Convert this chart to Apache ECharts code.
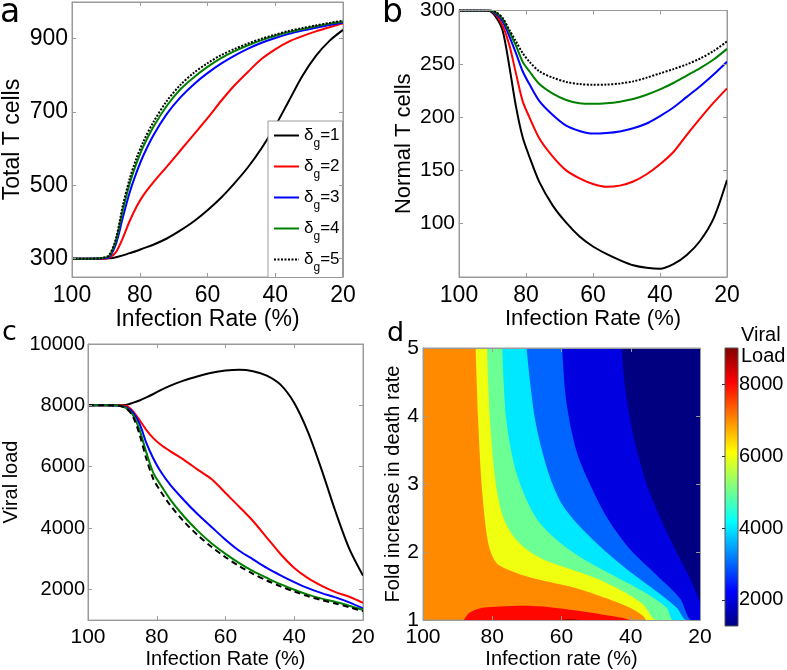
<!DOCTYPE html>
<html><head><meta charset="utf-8">
<script src="https://cdn.jsdelivr.net/npm/echarts@6/dist/echarts.min.js"></script>
<style>html,body{margin:0;padding:0;background:#fff}#c{width:787px;height:670px}</style>
</head><body><div id="c"></div>
<script>
// ---------- data ----------
const rates = [100, 95, 91, 89, 87, 85, 83, 81, 79, 76, 72, 68, 64, 60, 56, 52, 48, 44, 40, 36, 32, 28, 24, 20];
const deltaNames = ['δg=1', 'δg=2', 'δg=3', 'δg=4', 'δg=5'];

// panel a: total T cells
const totalT1 = [300,300,300,301,304,309,315,321,328,338,355,377,402,432,466,506,550,602,662,730,798,853,894,924];
const totalT2 = [300,300,300,303,318,356,402,441,472,508,551,595,639,683,730,773,810,845,871,892,907,920,931,942];
const totalT3 = [300,300,301,305,341,412,480,534,580,636,695,740,776,806,832,854,873,889,902,913,922,930,937,944];
const totalT4 = [300,300,302,308,351,432,504,559,605,659,717,762,795,823,847,866,882,896,908,918,926,934,941,947];
const totalT5 = [300,300,302,310,356,445,517,573,618,672,730,774,807,833,855,872,887,900,911,921,929,936,943,949];

// panel b: normal T cells
const normalT1 = [300,300,299.5,294,281.5,248,210,181,163,139,117,101,88,78.6,71.6,65.8,61,58.6,57.7,62,70.6,84,105,141];
const normalT2 = [300,300,300,296,286,268,241,215,200,180,163,150,142.5,137.2,134.6,135.7,139.6,146.4,155.8,167.3,183.4,198.8,213.5,227];
const normalT3 = [300,300,300,297,290,276,260,243,231,215,202,192,187,184.5,185,186.5,189.5,194,201,209,219,229,240,252];
const normalT4 = [300,300,300,298,292,280,267,252,243,231,222,216,213,212.5,213,214.5,217,221,226,232,239,246,254,264];
const normalT5 = [300,300,300,298.5,293,282,271,260,252,243,237,233,231,230.3,230.5,231.5,233.5,237,241,245,249.5,255,262,271];

// panel c: viral load
const viral1 = [8000,8000,8000,8010,8080,8160,8260,8370,8490,8645,8815,8950,9065,9135,9163,9115,8972,8676,8080,7130,5890,4540,3330,2450];
const viral2 = [8000,8000,8000,7985,7820,7520,7195,6932,6732,6498,6217,5898,5594,5144,4695,4230,3692,3154,2700,2368,2118,1914,1761,1560];
const viral3 = [8000,8000,7990,7940,7780,7400,6768,6267,5869,5400,4900,4440,4030,3620,3260,2980,2700,2460,2240,2040,1880,1740,1580,1380];
const viral4 = [8000,8000,7990,7920,7700,7200,6450,5800,5430,4920,4370,3900,3500,3160,2860,2600,2380,2170,1990,1830,1700,1590,1470,1330];
const viral5 = [8000,8000,7990,7910,7650,7050,6250,5600,5220,4730,4200,3760,3380,3050,2760,2510,2290,2100,1930,1780,1650,1540,1420,1290];

// panel d: contour boundaries [infection rate %, fold increase]
const contourLevels = [7000, 6000, 5000, 4000, 3000, 2000];
const bound7000 = [[84.8,5],[84.1,3.97],[83.1,3.01],[81.7,2.29],[80.7,2.04],[78.8,1.84],[74.9,1.73],[69.2,1.63],[63.4,1.56],[55.7,1.47],[47.0,1.32],[40.2,1.18],[36.4,1.06],[35.4,1],[20,1]];
const bound6000 = [[81.5,5],[80.7,3.97],[79.0,3.01],[76.9,2.52],[74.0,2.24],[70.1,2.04],[65.3,1.89],[57.6,1.75],[49.9,1.61],[42.2,1.42],[36.4,1.23],[32.5,1],[20,1]];
const bound5000 = [[77.1,5],[76.0,3.97],[73.5,3.25],[70.1,2.77],[66.3,2.43],[60.5,2.14],[53.7,1.90],[45.1,1.66],[36.4,1.42],[29.6,1.18],[27.7,1],[20,1]];
const bound4000 = [[70.1,5],[67.7,3.97],[64.3,3.25],[60.5,2.76],[55.7,2.43],[48.0,2.04],[40.2,1.71],[32.5,1.42],[26.7,1.18],[23.9,1],[20,1]];
const bound3000 = [[59.8,5],[58.6,4.21],[55.7,3.49],[51.8,3.00],[47.0,2.52],[40.2,2.04],[32.5,1.66],[25.8,1.32],[22.4,1],[20,1]];
const bound2000 = [[42.6,5],[41.7,4.45],[39.3,3.73],[35.4,3.00],[31.6,2.52],[27.2,2.04],[22.4,1.56],[20,1.26]];
const bound8000 = [[88.2,1],[86.5,1.11],[82.7,1.18],[77.8,1.20],[71.1,1.21],[63.4,1.19],[55.7,1.14],[48.0,1.08],[42.2,1.03],[40.2,1]];
const bound9000 = [[61,1],[57.5,1.012],[54,1]];
const colorRange = [1270, 9020];
const colorbarTicks = [2000, 4000, 6000, 8000];

// tick labels
const totalTTicks = [300, 500, 700, 900];
const viralTicks = [2000, 4000, 6000, 8000, 10000];

// ---------- styling ----------
const FONT = '"Liberation Sans", Arial, sans-serif';
const LETTER = '"DejaVu Sans", sans-serif';
const FRAME = '#9a9a9a';
const lineColors = ['#000000', '#ff0000', '#0000ff', '#008000', '#000000'];
const plain = v => String(v);

function jet(v) {
  let t = (v - colorRange[0]) / (colorRange[1] - colorRange[0]);
  t = Math.max(0, Math.min(1, t));
  const c = x => Math.round(255 * Math.max(0, Math.min(1, x)));
  return 'rgb(' + c(1.5 - Math.abs(4 * t - 3)) + ',' + c(1.5 - Math.abs(4 * t - 2)) + ',' + c(1.5 - Math.abs(4 * t - 1)) + ')';
}

function makeX(gi, c) {
  const base = {gridIndex: gi, type: 'value', min: c.min, max: c.max, interval: c.interval, inverse: true, z: 10,
    splitLine: {show: false}, axisLine: {show: true, onZero: false, lineStyle: {color: FRAME, width: 1}},
    axisTick: {show: true, inside: true, length: 4, lineStyle: {color: FRAME}}};
  return [
    Object.assign({}, base, {position: 'bottom',
      axisLabel: {color: '#000', fontFamily: FONT, fontSize: c.fs, margin: c.margin, formatter: plain},
      name: c.name, nameLocation: 'middle', nameGap: c.nameGap,
      nameTextStyle: {color: '#000', fontFamily: FONT, fontSize: c.nfs}}),
    Object.assign({}, base, {position: 'top', axisLabel: {show: false}})
  ];
}
function makeY(gi, c) {
  const tick = {show: true, inside: true, length: 4, lineStyle: {color: FRAME}};
  const lab = {color: '#000', fontFamily: FONT, fontSize: c.fs, margin: c.margin, showMinLabel: c.showMin !== false, formatter: plain};
  if (c.ticks) { tick.customValues = c.ticks; lab.customValues = c.ticks; }
  const base = {gridIndex: gi, type: 'value', min: c.min, max: c.max, z: 10,
    splitLine: {show: false}, axisLine: {show: true, onZero: false, lineStyle: {color: FRAME, width: 1}}};
  if (c.interval) base.interval = c.interval;
  return [
    Object.assign({}, base, {position: 'left', axisTick: tick, axisLabel: lab,
      name: c.name, nameLocation: 'middle', nameGap: c.nameGap, nameRotate: 90,
      nameTextStyle: {color: '#000', fontFamily: FONT, fontSize: c.nfs}}),
    Object.assign({}, base, {position: 'right', axisTick: Object.assign({}, tick), axisLabel: {show: false}})
  ];
}

const xAxis = [].concat(
  makeX(0, {min: 20, max: 100, interval: 20, fs: 23, margin: 7, name: 'Infection Rate (%)', nameGap: 25, nfs: 23}),
  makeX(1, {min: 20, max: 100, interval: 20, fs: 23, margin: 7, name: 'Infection Rate (%)', nameGap: 25, nfs: 22}),
  makeX(2, {min: 20, max: 100, interval: 20, fs: 21, margin: 7, name: 'Infection Rate (%)', nameGap: 22, nfs: 20}),
  makeX(3, {min: 20, max: 100, interval: 20, fs: 21, margin: 7, name: 'Infection rate (%)', nameGap: 22, nfs: 20}),
  [{gridIndex: 4, type: 'value', min: 0, max: 1, show: false}]
);
const yAxis = [].concat(
  makeY(0, {min: 250, max: 1000, ticks: totalTTicks, fs: 23, margin: 4, name: 'Total T cells', nameGap: 48, nfs: 23}),
  makeY(1, {min: 50, max: 300, interval: 50, showMin: false, fs: 21, margin: 4, name: 'Normal T cells', nameGap: 44, nfs: 22}),
  makeY(2, {min: 1000, max: 10000, ticks: viralTicks, fs: 20, margin: 3, name: 'Viral load', nameGap: 67, nfs: 20}),
  makeY(3, {min: 1, max: 5, interval: 1, fs: 21, margin: 4, name: 'Fold increase in death rate', nameGap: 15, nfs: 20}),
  [{gridIndex: 4, type: 'value', min: colorRange[0], max: colorRange[1], position: 'right', z: 10,
    splitLine: {show: false}, axisLine: {show: false},
    axisTick: {show: true, inside: true, length: 3, lineStyle: {color: '#333'}, customValues: colorbarTicks},
    axisLabel: {color: '#000', fontFamily: FONT, fontSize: 20, margin: 1, customValues: colorbarTicks, formatter: plain}}]
);

const series = [];
function addCurves(list, names, xi, lastType) {
  list.forEach((arr, i) => {
    series.push({type: 'line', name: names[i], xAxisIndex: xi, yAxisIndex: xi,
      data: rates.map((r, j) => [r, arr[j]]), symbol: 'none', smooth: 0.3, z: 3 + (i === 4 ? 1 : 0),
      lineStyle: {color: lineColors[i], width: 2, type: i === 4 ? lastType : 'solid'},
      itemStyle: {color: lineColors[i]}});
  });
}
addCurves([totalT1, totalT2, totalT3, totalT4, totalT5], deltaNames, 0, [2, 1.5]);
addCurves([normalT1, normalT2, normalT3, normalT4, normalT5], deltaNames, 2, [2, 1.5]);
addCurves([viral1, viral2, viral3, viral4, viral5], deltaNames, 4, [6, 4]);

// contour regions: below each level (fill toward top), colour of next lower level
const lowerBounds = [bound7000, bound6000, bound5000, bound4000, bound3000, bound2000];
lowerBounds.forEach((b, i) => {
  series.push({type: 'line', xAxisIndex: 6, yAxisIndex: 6, data: b, symbol: 'none', smooth: 0.3, silent: true,
    lineStyle: {width: 0}, areaStyle: {color: jet(contourLevels[i] - 1000), opacity: 1, origin: 'end'}, z: 2});
});
[[bound8000, 8000], [bound9000, 9000]].forEach(([b, lv]) => {
  series.push({type: 'line', xAxisIndex: 6, yAxisIndex: 6, data: b, symbol: 'none', smooth: 0.3, silent: true,
    lineStyle: {width: 0}, areaStyle: {color: jet(lv), opacity: 1, origin: 'start'}, z: 2});
});
// colour bar
const jetStops = [0, 0.125, 0.375, 0.625, 0.875, 1].map(t => ({offset: 1 - t,
  color: jet(colorRange[0] + t * (colorRange[1] - colorRange[0]))}));
series.push({type: 'custom', xAxisIndex: 8, yAxisIndex: 8, silent: true, data: [colorRange],
  renderItem: function (params, api) {
    const a = api.coord([0, api.value(1)]);
    const b = api.coord([1, api.value(0)]);
    return {type: 'rect', shape: {x: a[0], y: a[1], width: b[0] - a[0], height: b[1] - a[1]},
      style: {fill: new echarts.graphic.LinearGradient(0, 0, 0, 1, jetStops), stroke: '#555', lineWidth: 1}};
  }});

const option = {
  backgroundColor: '#fff',
  animation: false,
  grid: [
    {left: 67, top: 2, width: 276, height: 275, show: true, borderColor: FRAME, borderWidth: 1},
    {left: 459, top: 10, width: 268, height: 267, show: true, borderColor: FRAME, borderWidth: 1},
    {left: 82, top: 344, width: 281, height: 281, show: true, borderColor: FRAME, borderWidth: 1},
    {left: 423, top: 348, width: 277, height: 278, show: true, borderColor: FRAME, borderWidth: 1, backgroundColor: jet(7000)},
    {left: 725, top: 348, width: 13, height: 278}
  ],
  xAxis: xAxis,
  yAxis: yAxis,
  legend: {
    data: deltaNames, left: 268, top: 121, orient: 'vertical', itemWidth: 25, itemHeight: 14, itemGap: 8.5,
    padding: [6, 3, 4, 5], borderColor: FRAME, borderWidth: 1, backgroundColor: '#fff', selectedMode: false,
    itemStyle: {opacity: 0, borderWidth: 0},
    formatter: function (name) { return '{d|δ}{s|g}{d|=' + name.split('=')[1] + '}'; },
    textStyle: {color: '#000', fontFamily: FONT,
      rich: {d: {fontSize: 17, fontFamily: FONT, lineHeight: 28, color: '#000'},
             s: {fontSize: 12, fontFamily: FONT, lineHeight: 8, verticalAlign: 'bottom', color: '#000'}}}
  },
  graphic: [
    {type: 'text', left: 0, top: -3, style: {text: 'a', font: '33px ' + LETTER, fill: '#000'}},
    {type: 'text', left: 382, top: -3, style: {text: 'b', font: '33px ' + LETTER, fill: '#000'}},
    {type: 'text', left: 2, top: 319, style: {text: 'c', font: '27px ' + LETTER, fill: '#000'}},
    {type: 'text', left: 387, top: 320, style: {text: 'd', font: '27px ' + LETTER, fill: '#000'}},
    {type: 'text', left: 741, top: 325, style: {text: 'Viral\nLoad', font: '20px ' + FONT, lineHeight: 21, fill: '#000'}}
  ],
  series: series
};
const chart = echarts.init(document.getElementById('c'), null, {renderer: 'canvas'});
chart.setOption(option);
</script>
</body></html>
